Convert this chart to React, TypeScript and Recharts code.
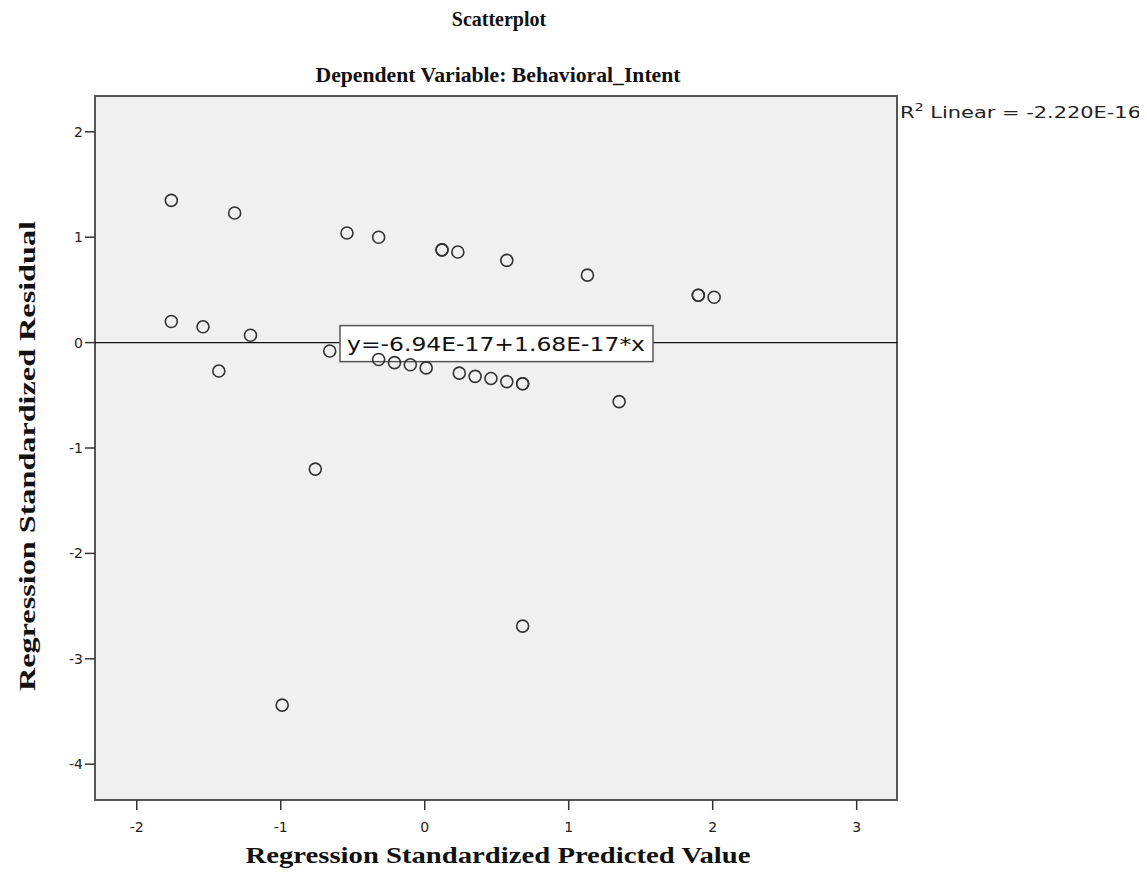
import React from "react";
import {
  ScatterChart,
  Scatter,
  XAxis,
  YAxis,
  ReferenceArea,
  ReferenceLine,
} from "recharts";

// predicted (x) and residual (y) values
const predicted = [
  -1.76, -1.32, -0.54, -0.32, 0.12, 0.12, 0.23, 0.57, 1.13, 1.9, 1.9, 2.01,
  -1.76, -1.54, -1.21, -1.43, -0.66, -0.32, -0.21, -0.1, 0.01, 0.24, 0.35,
  0.46, 0.57, 0.68, 0.68, 1.35, -0.76, 0.68, -0.99,
];
const residual = [
  1.35, 1.23, 1.04, 1.0, 0.88, 0.88, 0.86, 0.78, 0.64, 0.45, 0.45, 0.43,
  0.2, 0.15, 0.07, -0.27, -0.08, -0.16, -0.19, -0.21, -0.24, -0.29, -0.32,
  -0.34, -0.37, -0.39, -0.39, -0.56, -1.2, -2.69, -3.44,
];

const xTicks = [-2, -1, 0, 1, 2, 3];
const yTicks = [-4, -3, -2, -1, 0, 1, 2];
const xDomain = [-2.29, 3.28];
const yDomain = [-4.34, 2.34];

const fitLabel = "y=-6.94E-17+1.68E-17*x";

const points = predicted.map((x, i) => ({ x, y: residual[i] }));

const serif = "'Liberation Serif', 'Times New Roman', serif";
const sans = "'DejaVu Sans', sans-serif";

const Ring = (props: any) => {
  const { cx, cy } = props;
  if (cx == null || cy == null) return null;
  return <circle cx={cx} cy={cy} r={6} fill="none" stroke="#333" strokeWidth={1.6} />;
};

const FitLabel = (props: any) => {
  const vb = props.viewBox || {};
  const cx = vb.x + vb.width / 2;
  const cy = vb.y;
  return (
    <g>
      <rect x={cx - 156} y={cy - 17} width={313} height={36} fill="#fff" stroke="#555" strokeWidth={1.5} />
      <text
        x={cx}
        y={cy + 8}
        textAnchor="middle"
        fontFamily={sans}
        fontSize={19}
        fill="#111"
        textLength={298}
        lengthAdjust="spacingAndGlyphs"
      >
        {fitLabel}
      </text>
    </g>
  );
};

export default function App() {
  return (
    <div style={{ position: "relative", width: 1131, height: 866 }}>
      <ScatterChart
        width={1131}
        height={866}
        margin={{ top: 88, right: 242, bottom: 34, left: 27 }}
      >
        <XAxis
          type="number"
          dataKey="x"
          domain={xDomain}
          ticks={xTicks}
          allowDataOverflow
          axisLine={false}
          tickSize={10}
          tickLine={{ stroke: "#333", strokeWidth: 1.5 }}
          tick={{ fill: "#222", fontSize: 14, fontFamily: sans, dy: 10 }}
          height={40}
        />
        <YAxis
          type="number"
          dataKey="y"
          domain={yDomain}
          ticks={yTicks}
          allowDataOverflow
          axisLine={false}
          tickSize={10}
          tickLine={{ stroke: "#333", strokeWidth: 1.5 }}
          tick={{ fill: "#222", fontSize: 14, fontFamily: sans }}
          width={60}
        />
        <ReferenceArea
          x1={xDomain[0]}
          x2={xDomain[1]}
          y1={yDomain[0]}
          y2={yDomain[1]}
          fill="#f0f0f0"
          fillOpacity={1}
          stroke="#555"
          strokeWidth={2}
        />
        <ReferenceLine y={0} stroke="#111" strokeWidth={1.2} />
        <Scatter data={points} shape={<Ring />} isAnimationActive={false} />
        <ReferenceLine y={0} stroke="none" label={(p: any) => <FitLabel {...p} />} />
      </ScatterChart>
      <svg
        width={1131}
        height={866}
        style={{ position: "absolute", left: 0, top: 0, pointerEvents: "none" }}
      >
        <text x={491} y={18} textAnchor="middle" fontFamily={serif} fontWeight="bold" fontSize={20} fill="#111">
          Scatterplot
        </text>
        <text
          x={490}
          y={74}
          textAnchor="middle"
          fontFamily={serif}
          fontWeight="bold"
          fontSize={21}
          fill="#111"
          textLength={365}
          lengthAdjust="spacingAndGlyphs"
        >
          Dependent Variable: Behavioral_Intent
        </text>
        <text
          x={490}
          y={855}
          textAnchor="middle"
          fontFamily={serif}
          fontWeight="bold"
          fontSize={24}
          fill="#111"
          textLength={505}
          lengthAdjust="spacingAndGlyphs"
        >
          Regression Standardized Predicted Value
        </text>
        <text
          transform="translate(27, 448) rotate(-90)"
          textAnchor="middle"
          fontFamily={serif}
          fontWeight="bold"
          fontSize={24}
          fill="#111"
          textLength={470}
          lengthAdjust="spacingAndGlyphs"
        >
          Regression Standardized Residual
        </text>
        <text
          x={892}
          y={110}
          fontFamily={sans}
          fontSize={16}
          fill="#222"
          textLength={241}
          lengthAdjust="spacingAndGlyphs"
        >
          R<tspan dy={-7} fontSize={11}>2</tspan>
          <tspan dy={7}> Linear = -2.220E-16</tspan>
        </text>
      </svg>
    </div>
  );
}
